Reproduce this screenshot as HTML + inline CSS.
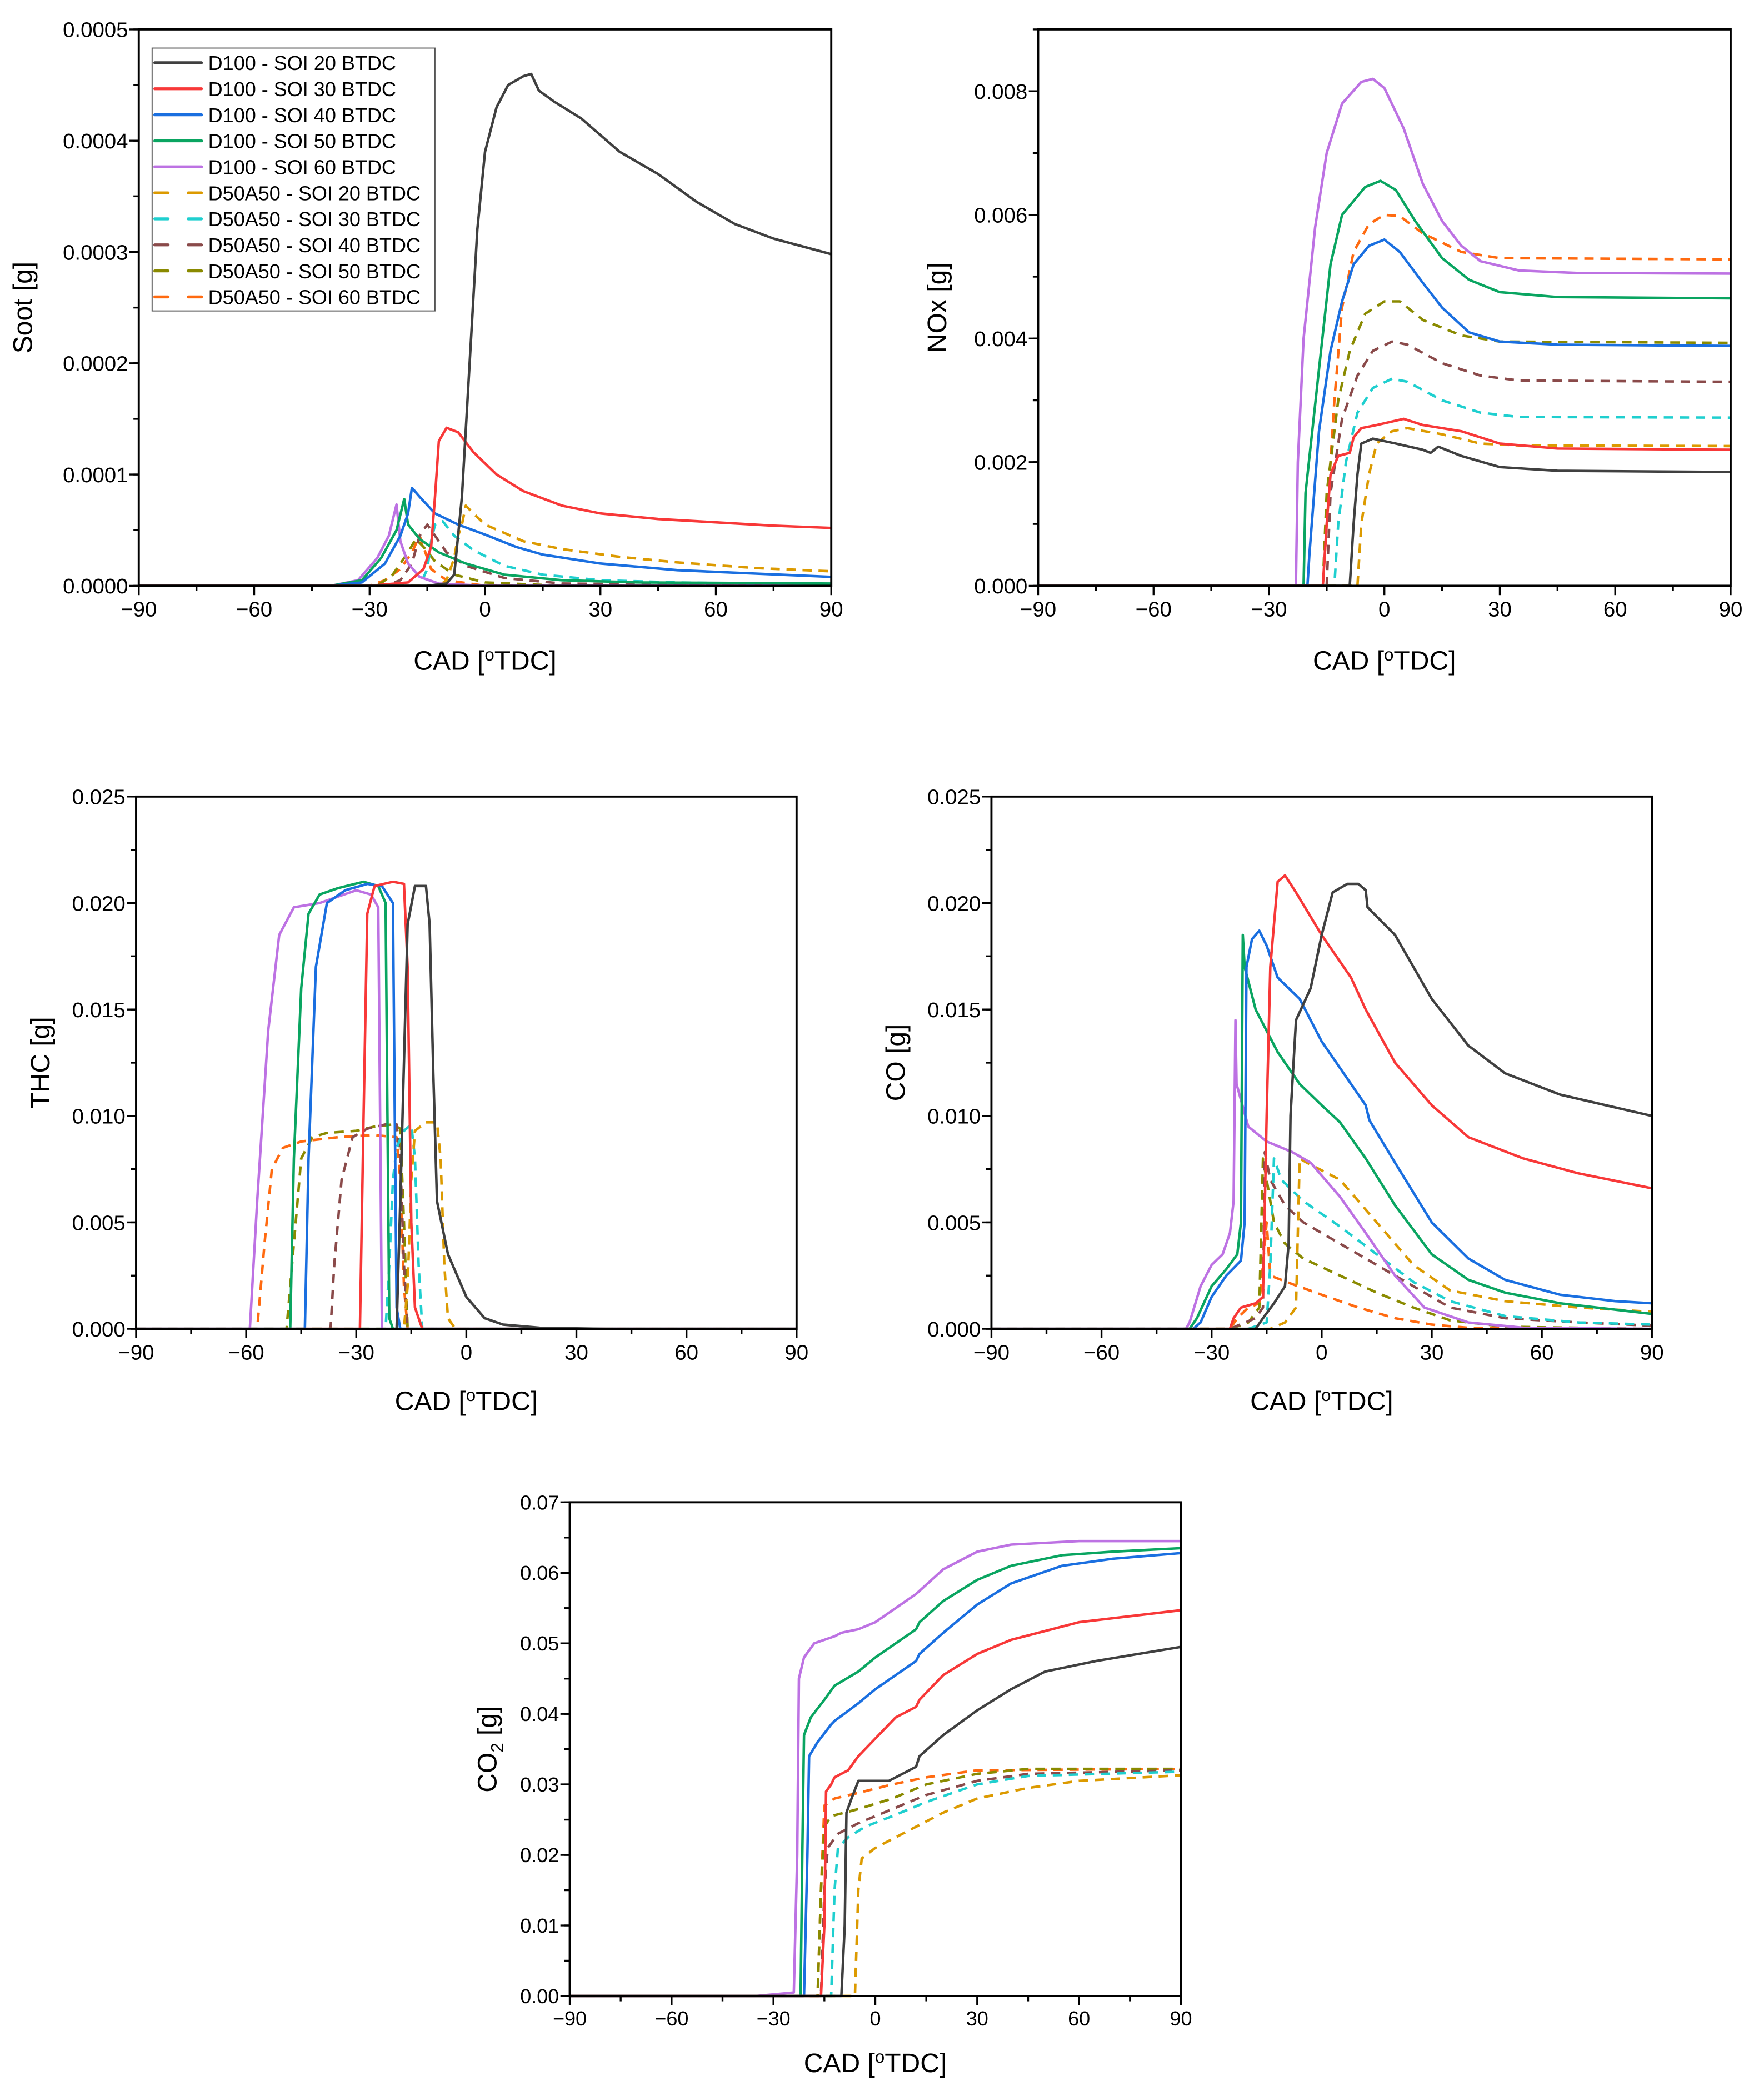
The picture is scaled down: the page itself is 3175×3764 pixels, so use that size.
<!DOCTYPE html>
<html><head><meta charset="utf-8"><style>
html,body{margin:0;padding:0;background:#fff;}
svg{display:block;font-family:"Liberation Sans",Arial,sans-serif;}
</style></head><body>
<svg id="fig" width="3175" height="3764" viewBox="0 0 1322 1567.2" xmlns="http://www.w3.org/2000/svg"></svg>
<script>
// ---- shared data ----
const seriesNames = ["D100 - SOI 20 BTDC","D100 - SOI 30 BTDC","D100 - SOI 40 BTDC","D100 - SOI 50 BTDC","D100 - SOI 60 BTDC","D50A50 - SOI 20 BTDC","D50A50 - SOI 30 BTDC","D50A50 - SOI 40 BTDC","D50A50 - SOI 50 BTDC","D50A50 - SOI 60 BTDC"];
const xTicks = [-90,-60,-30,0,30,60,90];

// ---- Soot (units 1e-4 g) ----
const sootX = [
 [-90,-15,-10,-8,-6,-4,-2,0,3,6,10,12,14,18,25,35,45,55,65,75,90],
 [-90,-30,-20,-16,-14,-13,-12,-10,-7,-3,3,10,20,30,45,60,75,90],
 [-90,-40,-32,-26,-22,-20,-19,-17,-13,-7,0,8,15,30,50,70,90],
 [-90,-40,-32,-27,-23,-21,-20,-17,-12,-5,5,20,40,90],
 [-90,-40,-33,-28,-25,-23,-22,-20,-17,-12,0,90],
 [-90,-12,-10,-8,-7,-6,-5,-3,0,10,20,35,50,70,90],
 [-90,-17,-15,-14,-13,-11,-8,-3,5,15,30,50,90],
 [-90,-26,-22,-19,-17,-15,-13,-10,-5,5,20,90],
 [-90,-28,-24,-20,-18,-16,-13,-8,0,20,90],
 [-90,-30,-26,-22,-19,-17,-16,-14,-10,0,90]];
const sootY = [
 [0,0,0.02,0.1,0.8,2.0,3.2,3.9,4.3,4.5,4.58,4.6,4.45,4.35,4.2,3.9,3.7,3.45,3.25,3.12,2.98],
 [0,0,0.03,0.15,0.35,0.8,1.3,1.42,1.38,1.2,1.0,0.85,0.72,0.65,0.6,0.57,0.54,0.52],
 [0,0,0.03,0.2,0.45,0.65,0.88,0.8,0.65,0.55,0.46,0.35,0.28,0.2,0.14,0.11,0.08],
 [0,0,0.05,0.25,0.5,0.78,0.55,0.42,0.3,0.2,0.1,0.05,0.03,0.02],
 [0,0,0.05,0.25,0.45,0.73,0.4,0.2,0.08,0.02,0,0],
 [0,0,0.05,0.25,0.45,0.55,0.72,0.65,0.55,0.4,0.33,0.26,0.21,0.16,0.13],
 [0,0,0.15,0.4,0.55,0.58,0.45,0.32,0.18,0.1,0.05,0.03,0.01],
 [0,0,0.05,0.2,0.45,0.55,0.45,0.3,0.18,0.07,0.02,0],
 [0,0,0.1,0.3,0.42,0.35,0.22,0.1,0.03,0,0],
 [0,0,0.05,0.15,0.3,0.45,0.35,0.15,0.05,0,0]];
const sootYTicks = [0,1,2,3,4,5];
const sootYLabels = ["0.0000","0.0001","0.0002","0.0003","0.0004","0.0005"];

// ---- NOx (units 1e-3 g) ----
const noxX = [
 [-90,-9,-8,-7,-6,-3,3,10,12,14,20,30,45,90],
 [-90,-16,-15,-14,-12,-9,-8,-6,-2,5,10,20,30,45,90],
 [-90,-20,-19.5,-17,-14,-11,-8,-4,0,4,10,15,22,30,45,90],
 [-90,-21,-20.5,-17,-14,-11,-5,-1,3,8,15,22,30,45,90],
 [-90,-23,-22.5,-21,-18,-15,-11,-6,-3,0,5,10,15,20,25,35,50,90],
 [-90,-7,-6,-4,-2,2,6,15,25,35,90],
 [-90,-13,-12,-10,-7,-3,2,6,15,25,35,90],
 [-90,-15,-14,-11,-7,-3,2,6,15,25,35,90],
 [-90,-16,-15,-12,-9,-5,0,4,10,20,30,90],
 [-90,-16,-15,-13,-11,-8,-4,0,4,10,20,30,90]];
const noxY = [
 [0,0,1.0,1.8,2.3,2.38,2.3,2.2,2.15,2.25,2.1,1.92,1.86,1.84],
 [0,0,1.0,1.8,2.1,2.15,2.4,2.55,2.6,2.7,2.6,2.5,2.3,2.22,2.2],
 [0,0,0.5,2.5,3.8,4.6,5.2,5.5,5.6,5.4,4.9,4.5,4.1,3.95,3.9,3.88],
 [0,0,1.5,3.5,5.2,6.0,6.45,6.55,6.4,5.9,5.3,4.95,4.75,4.67,4.65],
 [0,0,2.0,4.0,5.8,7.0,7.8,8.15,8.2,8.05,7.4,6.5,5.9,5.5,5.25,5.1,5.06,5.05],
 [0,0,1.0,1.8,2.3,2.5,2.55,2.45,2.3,2.27,2.26],
 [0,0,1.0,2.0,2.8,3.2,3.35,3.3,3.0,2.8,2.73,2.72],
 [0,0,1.5,2.7,3.4,3.8,3.95,3.9,3.6,3.4,3.32,3.3],
 [0,0,1.5,3.0,3.8,4.4,4.6,4.6,4.3,4.05,3.95,3.93],
 [0,0,1.0,3.0,4.5,5.4,5.85,6.0,5.98,5.7,5.4,5.3,5.28]];
const noxYTicks = [0,2,4,6,8];
const noxYLabels = ["0.000","0.002","0.004","0.006","0.008"];

// ---- THC (units 1e-3 g) ----
const thcX = [
 [-90,-19,-18,-16,-14,-11,-10,-9,-8,-5,0,5,10,20,38,90],
 [-90,-29,-28,-27,-25,-20,-17,-16,-15,-14,-12,90],
 [-90,-44,-43,-41,-38,-33,-27,-23,-20,-19.5,-19,-18,90],
 [-90,-48,-47,-45,-43,-40,-35,-28,-24,-22,-21.5,-21,-20,90],
 [-90,-59,-57,-54,-51,-47,-40,-35,-30,-26,-24,-23.5,-23,90],
 [-90,-17,-16,-15,-14,-11,-8,-7,-6,-5,-3,90],
 [-90,-22,-21,-20,-19,-17,-15,-14,-13,-12,90],
 [-90,-37,-36,-34,-31,-27,-22,-19,-18,-17,-16,90],
 [-90,-49,-47,-45,-42,-38,-30,-25,-20,-18,-17,-16,90],
 [-90,-57,-55,-53,-50,-45,-40,-35,-25,-19,-18,-17,-16,90]];
const thcY = [
 [0,0,6,19,20.8,20.8,19,12,6,3.5,1.5,0.5,0.2,0.05,0,0],
 [0,0,10,19.5,20.8,21,20.9,17,5,1,0,0],
 [0,0,8,17,20,20.6,20.9,20.8,20,10,1,0,0],
 [0,0,8,16,19.5,20.4,20.7,21,20.8,20,10,0.5,0,0],
 [0,0,6,14,18.5,19.8,20,20.3,20.6,20.4,19.8,10,0,0],
 [0,0,2,7,9.3,9.7,9.7,8,3,0.5,0,0],
 [0,0,3,7,8.5,9.3,9.6,8,3,0,0],
 [0,0,3,7,9.0,9.4,9.6,9.6,8,3,0,0],
 [0,0,4,8,9.0,9.2,9.3,9.5,9.6,9.4,5,0,0],
 [0,0,4,7.5,8.5,8.8,8.9,9.0,9.1,9.0,7,2,0,0]];
const thcYTicks = [0,5,10,15,20,25];
const thcYLabels = ["0.000","0.005","0.010","0.015","0.020","0.025"];

// ---- CO (units 1e-3 g) ----
const coX = [
 [-90,-18,-16,-13,-10,-9,-8.5,-7,-3,0,3,7,10,12,12.5,20,25,30,40,50,65,80,90],
 [-90,-25,-24,-22,-18,-16,-15,-14,-12,-10,-7,0,8,12,20,30,40,55,70,90],
 [-90,-35,-33,-30,-26,-22,-21,-20.5,-19,-17,-15,-12,-6,0,6,12,13,20,30,40,50,65,80,90],
 [-90,-36,-34,-30,-26,-23,-22,-21.5,-21,-18,-12,-6,0,5,12,20,30,40,50,65,90],
 [-90,-37,-36,-33,-30,-27,-25,-24,-23.5,-23.2,-20,-15,-8,-3,5,12,20,28,40,55,90],
 [-90,-14,-10,-7,-6,-4,5,15,25,35,50,70,90],
 [-90,-20,-15,-14,-13,-11,-5,5,15,25,35,50,70,90],
 [-90,-25,-18,-16,-15.5,-14,-10,-5,5,15,25,35,50,70,90],
 [-90,-25,-20,-17,-16,-15,-13,-10,-5,5,15,25,35,50,90],
 [-90,-25,-23,-20,-17,-16,-15,-14,-8,0,10,20,30,40,90]];
const coY = [
 [0,0,0.5,1.2,2,4,10,14.5,16,18.5,20.5,20.9,20.9,20.6,19.8,18.5,17,15.5,13.3,12,11,10.4,10],
 [0,0,0.5,1,1.2,1.5,10,17,21,21.3,20.5,18.5,16.5,15,12.5,10.5,9,8,7.3,6.6],
 [0,0,0.3,1.5,2.5,3.2,5,17,18.3,18.7,18,16.5,15.5,13.5,12,10.5,9.8,7.8,5,3.3,2.3,1.6,1.3,1.2],
 [0,0,0.5,2,2.8,3.5,5,18.5,17,15,13,11.5,10.5,9.7,8,5.8,3.5,2.3,1.7,1.2,0.7],
 [0,0,0.3,2,3,3.5,4.5,6,14.5,11.5,9.5,8.8,8.3,7.8,6.2,4.5,2.5,1.0,0.3,0.05,0],
 [0,0,0.3,1,8,7.8,7,5,3,1.8,1.3,1.0,0.8],
 [0,0,0.3,3,8,7,6,4.8,3.5,2.2,1.3,0.6,0.3,0.2],
 [0,0,0.5,1,8.3,7,5.8,5,4,3,2,1,0.5,0.3,0.15],
 [0,0,0.3,1,8.0,7,5,4,3.3,2.5,1.7,1.0,0.4,0.1,0],
 [0,0,0.5,1,1.2,3,5,2.5,2.1,1.6,1.0,0.5,0.2,0.05,0]];
const coYTicks = [0,5,10,15,20,25];
const coYLabels = ["0.000","0.005","0.010","0.015","0.020","0.025"];

// ---- CO2 (units 1e-2 g) ----
const co2X = [
 [-90,-10,-9,-8.5,-7,-5,0,4,10,12,13,20,30,40,50,65,90],
 [-90,-16,-15,-14.5,-13,-12,-8,-5,0,6,12,13,20,30,40,60,90],
 [-90,-21,-20,-19.5,-17,-13,-12,-5,0,6,12,13,20,30,40,55,70,90],
 [-90,-22,-21.5,-21,-19,-15,-12,-5,0,6,12,13,20,30,40,55,70,90],
 [-90,-35,-24,-23,-22.5,-21,-18,-12,-10,-5,0,6,12,20,30,40,60,90],
 [-90,-6,-5,-4,0,10,20,30,45,60,90],
 [-90,-13,-12,-11,-8,-3,5,15,30,45,90],
 [-90,-16,-15,-14,-11,-5,5,15,30,45,90],
 [-90,-17,-16,-15,-13,-5,5,15,30,45,90],
 [-90,-17,-16,-15,-12,-5,5,15,30,90]];
const co2Y = [
 [0,0,1,2.6,2.8,3.05,3.05,3.05,3.2,3.25,3.4,3.7,4.05,4.35,4.6,4.75,4.95],
 [0,0,1,2.9,3.0,3.1,3.2,3.4,3.65,3.95,4.1,4.2,4.55,4.85,5.05,5.3,5.47],
 [0,0,2,3.4,3.6,3.85,3.9,4.15,4.35,4.55,4.75,4.85,5.15,5.55,5.85,6.1,6.2,6.28],
 [0,0,2,3.7,3.95,4.2,4.4,4.6,4.8,5.0,5.2,5.3,5.6,5.9,6.1,6.25,6.3,6.35],
 [0,0,0.05,2,4.5,4.8,5.0,5.1,5.15,5.2,5.3,5.5,5.7,6.05,6.3,6.4,6.45,6.45],
 [0,0,1.5,1.95,2.1,2.35,2.6,2.8,2.95,3.05,3.13],
 [0,0,1.5,2.1,2.25,2.4,2.55,2.75,3.0,3.12,3.18],
 [0,0,1.5,2.1,2.3,2.45,2.65,2.85,3.05,3.15,3.2],
 [0,0,1.5,2.4,2.55,2.65,2.8,3.0,3.15,3.22,3.22],
 [0,0,1.5,2.7,2.8,2.88,3.0,3.1,3.2,3.22]];
const co2YTicks = [0,1,2,3,4,5,6,7];
const co2YLabels = ["0.00","0.01","0.02","0.03","0.04","0.05","0.06","0.07"];

// ---- styling (not data) ----
const colors = ["#404040","#f83838","#1a6fe0","#0aa561","#bd72e3","#dc9a00","#1fcfcf","#8a4a4a","#8a8a00","#ff6a10"];
const NS = "http://www.w3.org/2000/svg";
const svg = document.getElementById("fig");
function mk(tag, attrs, parent){ const e=document.createElementNS(NS,tag); for(const k in attrs) e.setAttribute(k,attrs[k]); (parent||svg).appendChild(e); return e; }

function drawChart(key, box, yMax, yMinorStep, xs, ys, yTicks, yLabels, yTitle, fs, yTitleX, xTitleY){
  const g = mk("g",{});
  
  
  const sx = v => box.x0 + (v+90)/180*(box.x1-box.x0);
  const sy = v => box.yB - v/yMax*(box.yB-box.yT);
  const sg = mk("g",{},g);
  
  
  for(let i=xs.length-1;i>=0;i--){
    let d="";
    for(let j=0;j<xs[i].length;j++){ d += (j?"L":"M")+sx(xs[i][j]).toFixed(2)+","+sy(ys[i][j]).toFixed(2); }
    const p = mk("path",{d:d,fill:"none",stroke:colors[i],"stroke-width":1.9,"stroke-linejoin":"round"},sg);
    if(i>=5) p.setAttribute("stroke-dasharray","7 5");
    
    
  }
  const fr = mk("rect",{x:box.x0,y:box.yT,width:box.x1-box.x0,height:box.yB-box.yT,fill:"none",stroke:"#000","stroke-width":1.6},g);
  
  
  const xa = mk("g",{},g);
  
  
  for(let v=-90; v<=90; v+=15){
    const major = (v%30===0);
    mk("line",{x1:sx(v),x2:sx(v),y1:box.yB,y2:box.yB+(major?7:4),stroke:"#000","stroke-width":1.4},xa);
  }
  xTicks.forEach(v=>{
    const t = mk("text",{x:sx(v),y:box.yB+fs+7,"font-size":fs,"text-anchor":"middle",fill:"#000"},xa);
    t.textContent = v<0 ? "\u2212"+Math.abs(v) : String(v);
    
    
  });
  const xt = mk("text",{x:(box.x0+box.x1)/2,y:xTitleY,"font-size":20,"text-anchor":"middle",fill:"#000"},xa);
  xt.innerHTML = 'CAD [<tspan font-size="13" dy="-7">o</tspan><tspan dy="7">TDC]</tspan>';
  
  
  const ya = mk("g",{},g);
  
  
  for(let v=0; v<=yMax+1e-9; v+=yMinorStep){
    mk("line",{x1:box.x0,x2:box.x0-4,y1:sy(v),y2:sy(v),stroke:"#000","stroke-width":1.4},ya);
  }
  yTicks.forEach((v,i)=>{
    mk("line",{x1:box.x0,x2:box.x0-7,y1:sy(v),y2:sy(v),stroke:"#000","stroke-width":1.4},ya);
    const t = mk("text",{x:box.x0-8,y:sy(v)+fs*0.36,"font-size":fs,"text-anchor":"end",fill:"#000"},ya);
    t.textContent = yLabels[i];
    
    
  });
  const cy = (box.yT+box.yB)/2;
  const yt = mk("text",{x:yTitleX,y:cy,"font-size":20,"text-anchor":"middle",fill:"#000",transform:"rotate(-90 "+yTitleX+" "+cy+")"},ya);
  yt.innerHTML = yTitle;
  
  
}

drawChart("soot",{x0:104,x1:623,yT:22,yB:439},5,0.5,sootX,sootY,sootYTicks,sootYLabels,"Soot [g]",16,24,502);
drawChart("nox",{x0:778,x1:1297,yT:22,yB:439},9,1,noxX,noxY,noxYTicks,noxYLabels,"NOx [g]",16,709,502);
drawChart("thc",{x0:102,x1:597,yT:597,yB:996},25,2.5,thcX,thcY,thcYTicks,thcYLabels,"THC [g]",16,37,1057);
drawChart("co",{x0:743,x1:1238,yT:597,yB:996},25,2.5,coX,coY,coYTicks,coYLabels,"CO [g]",16,678,1057);
drawChart("co2",{x0:427,x1:885,yT:1126,yB:1496},7,0.5,co2X,co2Y,co2YTicks,co2YLabels,'CO<tspan font-size="13" dy="5">2</tspan><tspan dy="-5"> [g]</tspan>',15,372,1553);

// legend
const lg = mk("g",{});


mk("rect",{x:114,y:36,width:212,height:197,fill:"#fff",stroke:"#555","stroke-width":0.8},lg);
seriesNames.forEach((n,i)=>{
  const y = 47 + i*19.5;
  const e = mk("g",{},lg);
  
  
  const l = mk("line",{x1:116,x2:151,y1:y,y2:y,stroke:colors[i],"stroke-width":2.2,"stroke-linecap":"round"},e);
  if(i>=5) l.setAttribute("stroke-dasharray","10 15");
  const t = mk("text",{x:156,y:y+5.5,"font-size":15,fill:"#000"},e);
  t.textContent = n;
});
</script>
</body></html>
